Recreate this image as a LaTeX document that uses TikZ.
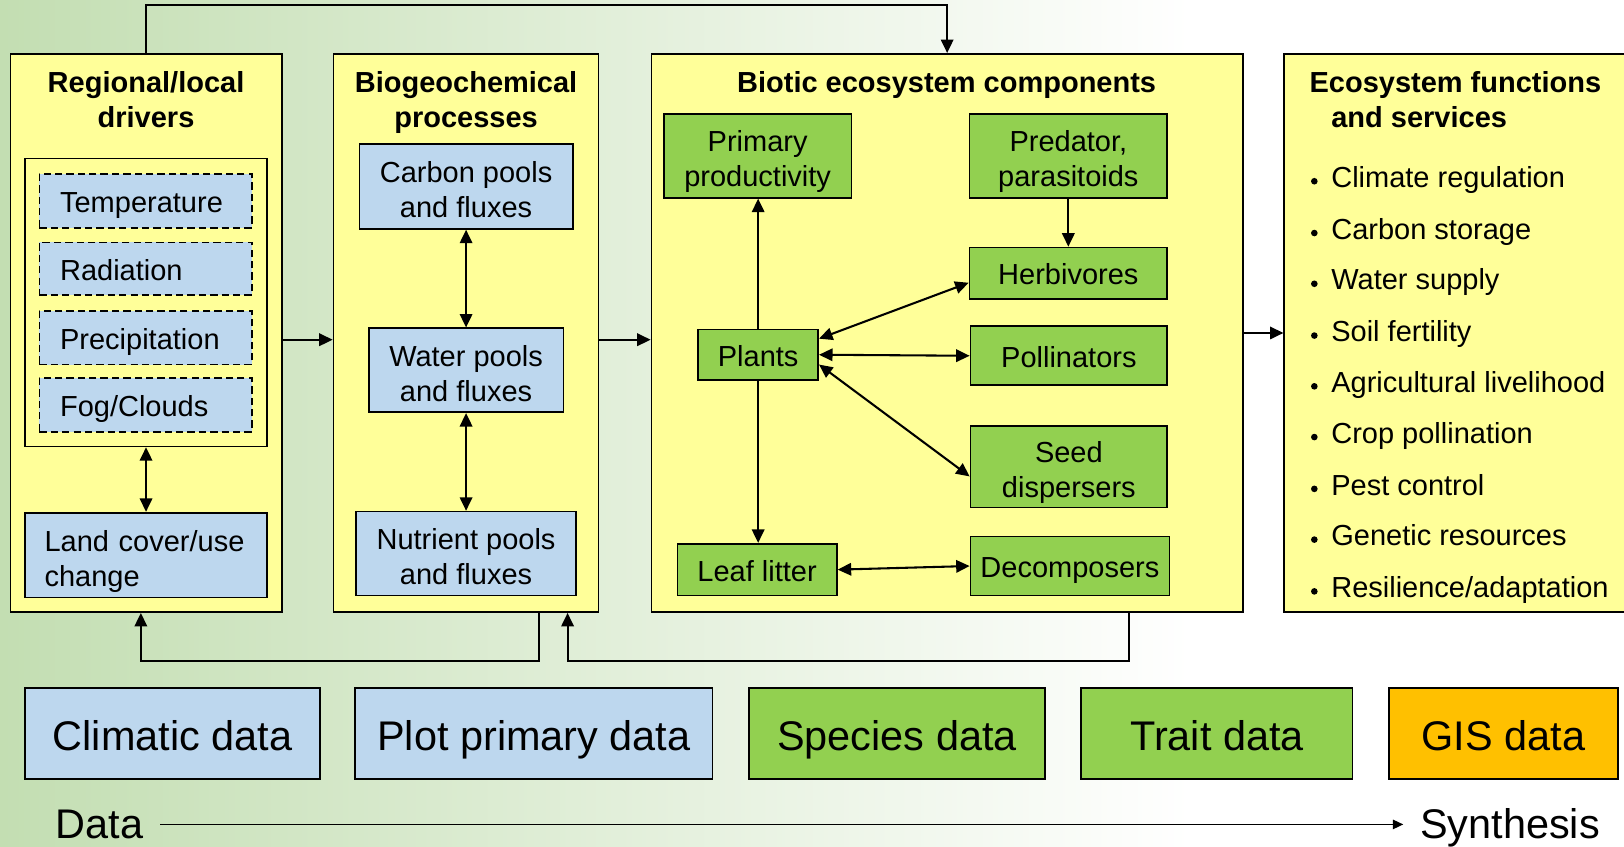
\documentclass[tikz,border=0pt]{standalone}
\usepackage{fontspec}
\setmainfont{Liberation Sans}
\usetikzlibrary{arrows.meta}
\definecolor{bgL}{RGB}{195,222,178}
\definecolor{boxY}{RGB}{255,255,153}
\definecolor{boxB}{RGB}{189,215,238}
\definecolor{boxG}{RGB}{146,208,80}
\definecolor{boxO}{RGB}{255,192,0}
\tikzset{
  cont/.style={draw, line width=0.8pt, fill=boxY, inner sep=0pt},
  base/.style={draw, line width=0.8pt, inner sep=0pt, align=center, text height=14pt, text depth=3pt, font=\fontsize{14}{17}\selectfont},
  two/.style={text height=31pt, text depth=1pt},
  bbox/.style={base, fill=boxB},
  gbox/.style={base, fill=boxG},
  dbox/.style={base, fill=boxB, dash pattern=on 3.5pt off 2pt},
  ttl/.style={inner sep=0pt, align=center, text height=31pt, text depth=1pt, font=\fontsize{14}{17}\selectfont\bfseries},
  item/.style={inner sep=0pt, anchor=west, text height=14pt, text depth=3pt, font=\fontsize{14}{17}\selectfont},
  databox/.style={draw, line width=0.8pt, inner sep=0pt, minimum height=44pt, text height=21pt, text depth=4pt, font=\fontsize{20}{24}\selectfont},
  axlabel/.style={inner sep=0pt, text height=16pt, text depth=2pt, font=\fontsize{20}{24}\selectfont},
  arr/.style={-{Triangle[length=6.5pt,width=6pt]}, line width=1pt},
  darr/.style={{Triangle[length=6.5pt,width=6pt]}-{Triangle[length=6.5pt,width=6pt]}, line width=1pt},
  thinarr/.style={-{Triangle[length=5pt,width=4.5pt]}, line width=0.8pt}
}
\begin{document}
\begin{tikzpicture}[x=0.5pt,y=-0.5pt]
\clip (0,0) rectangle (1568,817);
\shade[left color=bgL, right color=white] (0,0) rectangle (1150,817);
\fill[white] (1150,0) rectangle (1568,817);

% containers
\node[cont, minimum width=131pt, minimum height=269.5pt] (b1) at (141,321.5) {};
\node[cont, minimum width=128pt, minimum height=269.5pt] (b2) at (450,321.5) {};
\node[cont, minimum width=285.5pt, minimum height=269.5pt] (b3) at (914.5,321.5) {};
\node[cont, minimum width=170pt, minimum height=269.5pt] (b4) at (1410,321.5) {};

% titles
\node[ttl] (t1) at (141,93) {Regional/local\\drivers};
\node[ttl] (t2) at (450,93) {Biogeochemical\\processes};
\node[ttl, text height=14pt, text depth=3pt] (t3) at (914,78) {Biotic ecosystem components};
\node[ttl, anchor=west, align=left] (t4) at (1264,93) {Ecosystem functions\\\hspace*{10.5pt}and services};

% box 1 contents
\node[cont, minimum width=117pt, minimum height=139pt] (frame) at (141,292) {};
\node[dbox, minimum width=102.5pt, minimum height=26pt, text width=82.5pt, align=left] (temp) at (140.5,194) {Temperature};
\node[dbox, minimum width=102.5pt, minimum height=25.5pt, text width=82.5pt, align=left] (rad) at (140.5,259.5) {Radiation};
\node[dbox, minimum width=102.5pt, minimum height=26pt, text width=82.5pt, align=left] (prec) at (140.5,326) {Precipitation};
\node[dbox, minimum width=102.5pt, minimum height=26pt, text width=82.5pt, align=left] (fog) at (140.5,391) {Fog/Clouds};
\node[bbox, text height=14pt, text depth=18pt, minimum width=117pt, minimum height=41pt, text width=98pt, align=left, inner xsep=9.5pt] (land) at (141,536) {Land cover/use\\change};

% box 2 contents
\node[bbox, two, minimum width=103pt, minimum height=41pt] (carb) at (450,180) {Carbon pools\\and fluxes};
\node[bbox, two, minimum width=94pt, minimum height=40.5pt] (wat) at (450,357.5) {Water pools\\and fluxes};
\node[bbox, two, minimum width=106pt, minimum height=40.5pt] (nut) at (450,534.5) {Nutrient pools\\and fluxes};

% box 3 contents
\node[gbox, two, minimum width=90.5pt, minimum height=40.5pt] (pp) at (731.5,150.5) {Primary\\productivity};
\node[gbox, two, minimum width=95.5pt, minimum height=40.5pt] (pred) at (1031.5,150.5) {Predator,\\parasitoids};
\node[gbox, minimum width=95.5pt, minimum height=25pt] (herb) at (1031.5,264) {Herbivores};
\node[gbox, minimum width=95pt, minimum height=28.5pt] (poll) at (1032,343.5) {Pollinators};
\node[gbox, two, minimum width=95pt, minimum height=39.5pt] (seed) at (1032,450.5) {Seed\\dispersers};
\node[gbox, minimum width=96pt, minimum height=28.5pt] (dec) at (1033,546.5) {Decomposers};
\node[gbox, minimum width=58pt, minimum height=24.5pt] (plants) at (732,342.5) {Plants};
\node[gbox, minimum width=77pt, minimum height=25pt] (leaf) at (731,550) {Leaf litter};

% box 4 list
\foreach \n/\t/\y in {1/Climate regulation/171, 2/Carbon storage/221, 3/Water supply/270, 4/Soil fertility/320, 5/Agricultural livelihood/369, 6/Crop pollination/418, 7/Pest control/468, 8/Genetic resources/517, 9/Resilience\slash adaptation/567}{
  \node[item] (s\n) at (1285,\y-1) {\t};
  \fill (1269,\y+4) circle (1.6pt);
}

% data boxes
\node[databox, fill=boxB, minimum width=142.5pt] (cd) at (166.5,708) {Climatic data};
\node[databox, fill=boxB, minimum width=172.5pt] (pd) at (515.5,708) {Plot primary data};
\node[databox, fill=boxG, minimum width=143pt] (sd) at (866,708) {Species data};
\node[databox, fill=boxG, minimum width=131pt] (td) at (1175,708) {Trait data};
\node[databox, fill=boxO, minimum width=110.5pt] (gd) at (1451.5,708) {GIS data};

\node[axlabel] (dl) at (96,796) {Data};
\node[axlabel] (sl) at (1458,796) {Synthesis};
\draw[thinarr, shorten <=8pt, shorten >=8pt] (dl.east) -- (sl.west);

% connectors between containers
\draw[arr] (b1.north) -- ++(0,-46) -| (b3.north);
\draw[arr] ([yshift=-3.25pt]b1.east) -- ([yshift=-3.25pt]b2.west);
\draw[arr] ([yshift=-3.25pt]b2.east) -- ([yshift=-3.25pt]b3.west);
\draw[arr] (b3.east) -- (b4.west);
\draw[arr] ([xshift=35pt]b2.south) -- ++(0,46) -| ([xshift=-2.5pt]b1.south);
\draw[arr] ([xshift=87.75pt]b3.south) -- ++(0,46) -| ([xshift=49pt]b2.south);

% inner connectors
\draw[darr] (frame.south) -- (land.north);
\draw[darr] (carb.south) -- (wat.north);
\draw[darr] (wat.south) -- (nut.north);
\draw[arr] (plants.north) -- (plants.north |- pp.south);
\draw[arr] (plants.south) -- (plants.south |- leaf.north);
\draw[arr] (pred.south) -- (herb.north);
\draw[darr] ([yshift=7.75pt]plants.east) -- ([yshift=-4.5pt]herb.west);
\draw[darr] (plants.east) -- (poll.west);
\draw[darr] ([yshift=-4.75pt]plants.east) -- ([yshift=-4.75pt]seed.west);
\draw[darr] (leaf.east) -- (dec.west);
\end{tikzpicture}
\end{document}
